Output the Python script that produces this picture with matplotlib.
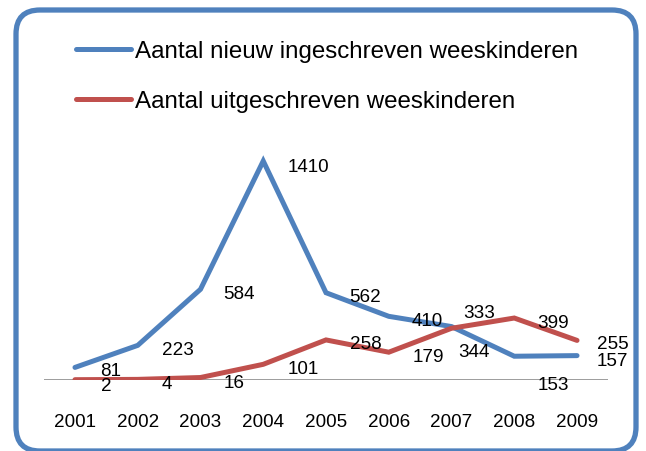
import matplotlib
matplotlib.use("Agg")
import matplotlib.pyplot as plt
from matplotlib.patches import FancyBboxPatch

years = ["2001", "2002", "2003", "2004", "2005", "2006", "2007", "2008", "2009"]
nieuw = [81, 223, 584, 1410, 562, 410, 344, 153, 157]
uit = [2, 4, 16, 101, 258, 179, 333, 399, 255]
series_names = ["Aantal nieuw ingeschreven weeskinderen", "Aantal uitgeschreven weeskinderen"]

# label offsets in pixels (left edge / vertical centre relative to the point)
nieuw_dx = [25, 24, 23, 24, 23, 23, 7, 23, 20]
nieuw_dy = [-1, -2, -2, -3, -1, -2, -22, -26, -2]
uit_dx = [26, 24, 23, 24, 24, 24, 12, 23, 20]
uit_dy = [-3, -2, -2, -2, -1, -2, 18, -2, -1]

BLUE = "#4F81BD"
RED = "#C0504D"
W, H = 646, 452

plt.rcParams["font.family"] = ["Liberation Sans", "DejaVu Sans"]
fig = plt.figure(figsize=(W / 100, H / 100), dpi=100, facecolor="white")

# rounded chart border, drawn in pixel coordinates
ax_bg = fig.add_axes([0, 0, 1, 1])
ax_bg.set_xlim(0, W)
ax_bg.set_ylim(H, 0)
ax_bg.axis("off")
ax_bg.add_patch(FancyBboxPatch((16, 11), 620, 441, boxstyle="round,pad=0,rounding_size=24",
                               fill=False, edgecolor=BLUE, linewidth=3.8))

# plot area
x0, x1 = 43.6, 608.4
y0, ytop = 381, 132.5
ax = fig.add_axes([x0 / W, 1 - y0 / H, (x1 - x0) / W, (y0 - ytop) / H])
ax.set_facecolor("none")
x = list(range(len(years)))
l1, = ax.plot(x, nieuw, color=BLUE, lw=3.6, solid_capstyle="round", solid_joinstyle="miter",
              label=series_names[0], zorder=3)
l2, = ax.plot(x, uit, color=RED, lw=3.6, solid_capstyle="round", solid_joinstyle="miter",
              label=series_names[1], zorder=3)
ax.axhline(0, color="#8c8c8c", lw=1.2, zorder=2)
ax.set_xlim(-0.5, len(years) - 0.5)
ax.set_ylim(0, 1600)
ax.set_xticks(x)
ax.set_xticklabels(years, fontsize=13.6)
ax.tick_params(axis="x", length=0, pad=24)
ax.set_yticks([])
for s in ax.spines.values():
    s.set_visible(False)

for vals, dxs, dys in [(nieuw, nieuw_dx, nieuw_dy), (uit, uit_dx, uit_dy)]:
    for i, v in enumerate(vals):
        ax.annotate(str(v), xy=(i, v), xytext=(dxs[i], dys[i] - 7), textcoords="offset pixels",
                    ha="left", va="baseline", fontsize=13.6, color="black", zorder=4)

fig.legend(handles=[l1, l2], loc="upper left", bbox_to_anchor=(76 / W, 1 - 41 / H),
           bbox_transform=fig.transFigure, frameon=False, fontsize=17.4,
           borderpad=0, borderaxespad=0, handlelength=2.27, handletextpad=0.17,
           labelspacing=1.16)

fig.savefig("out.png", dpi=100)
